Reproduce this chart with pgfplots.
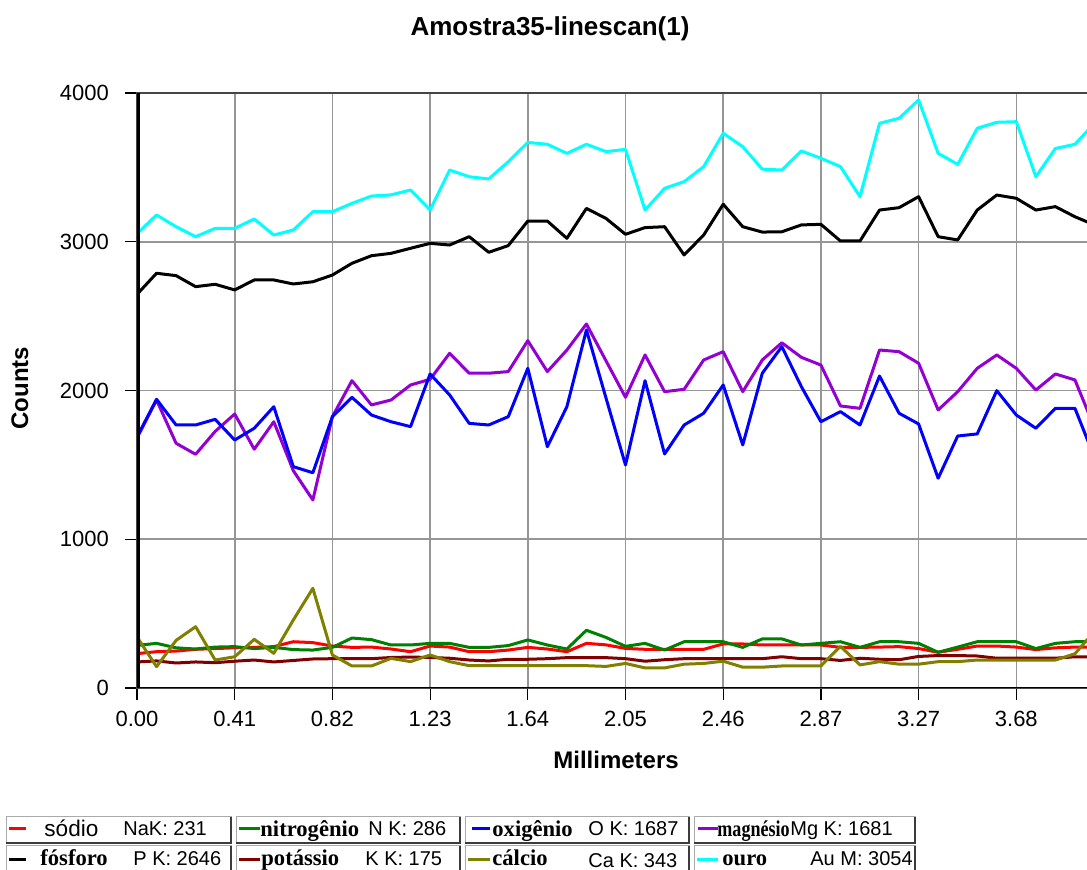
\documentclass[border=0pt]{standalone}
\usepackage{fontspec}
\setmainfont{Liberation Sans}
\newfontfamily\namefont{Liberation Serif}
\usepackage{pgfplots}
\usepackage{pgfplotstable}
\pgfplotsset{compat=1.18}

\definecolor{cNa}{RGB}{255,0,0}
\definecolor{cN}{RGB}{0,128,0}
\definecolor{cO}{RGB}{0,0,255}
\definecolor{cMg}{RGB}{148,0,211}
\definecolor{cP}{RGB}{0,0,0}
\definecolor{cK}{RGB}{128,0,0}
\definecolor{cCa}{RGB}{128,128,0}
\definecolor{cAu}{RGB}{0,255,255}
\definecolor{gridgray}{RGB}{150,150,150}
\definecolor{framegray}{RGB}{70,70,70}
\definecolor{boxlight}{RGB}{170,170,170}
\definecolor{boxdark}{RGB}{60,60,60}

% line scan: point index (step 0.082 mm) and counts per element
\pgfplotstableread{
i  Na  N   O    Mg   P    K   Ca  Au
0  231 286 1687 1681 2646 175 343 3054
1  244 300 1941 1936 2788 182 143 3180
2  248 270 1768 1645 2772 168 320 3101
3  260 262 1768 1571 2698 175 412 3034
4  265 275 1806 1725 2714 170 188 3090
5  270 278 1667 1842 2676 180 210 3090
6  273 265 1746 1605 2743 188 327 3153
7  278 273 1891 1790 2743 175 233 3045
8  311 258 1488 1461 2716 185 457 3079
9  305 255 1447 1264 2731 195 670 3202
10 282 273 1824 1824 2776 197 222 3202
11 273 336 1954 2066 2855 197 148 3258
12 275 325 1835 1903 2906 197 148 3307
13 262 289 1790 1936 2922 205 199 3315
14 244 289 1757 2037 2956 208 177 3348
15 282 300 2111 2075 2989 205 222 3213
16 275 300 1970 2250 2978 200 177 3482
17 244 273 1779 2116 3034 188 150 3437
18 244 273 1768 2116 2929 182 150 3422
19 255 285 1824 2127 2974 193 150 3538
20 273 323 2149 2335 3139 193 150 3668
21 262 289 1622 2127 3139 197 150 3655
22 244 262 1891 2272 3023 204 150 3594
23 300 388 2407 2447 3224 204 150 3655
24 290 340 1950 2200 3157 204 145 3606
25 266 280 1499 1954 3050 197 165 3621
26 260 300 2066 2239 3095 180 135 3213
27 260 255 1573 1992 3101 190 135 3359
28 260 311 1768 2008 2911 197 160 3404
29 260 311 1847 2205 3045 197 165 3505
30 296 311 2037 2261 3252 197 180 3729
31 296 273 1634 1992 3101 197 140 3639
32 289 330 2116 2205 3065 197 140 3488
33 289 330 2295 2321 3067 210 148 3482
34 289 289 2026 2223 3113 197 148 3610
35 289 300 1790 2171 3117 197 148 3561
36 273 311 1858 1896 3005 185 280 3505
37 273 273 1768 1880 3005 200 155 3303
38 275 311 2097 2272 3213 193 177 3796
39 278 311 1847 2261 3229 190 160 3830
40 265 300 1775 2183 3303 212 160 3953
41 240 240 1410 1869 3034 218 177 3594
42 260 275 1694 1992 3012 218 177 3520
43 282 311 1708 2149 3213 215 188 3763
44 282 311 1999 2239 3314 200 188 3803
45 275 311 1835 2149 3292 200 188 3807
46 258 265 1746 2003 3213 200 188 3437
47 270 300 1880 2111 3236 200 188 3627
48 275 311 1880 2071 3168 210 230 3655
49 275 311 1550 1750 3113 210 380 3796
}\linescan

\begin{document}
\begin{tikzpicture}
\useasboundingbox (0,0) rectangle (543.5pt,435pt);
\begin{axis}[
  at={(68.5pt,91pt)}, anchor=south west,
  scale only axis, width=480pt, height=297.5pt,
  xmin=0, xmax=49.13, ymin=0, ymax=4000,
  xtick={0,5,...,45},
  xticklabels={0.00,0.41,0.82,1.23,1.64,2.05,2.46,2.87,3.27,3.68},
  ytick={0,1000,2000,3000,4000},
  scaled y ticks=false,
  /pgf/number format/1000 sep={},
  /pgf/number format/assume math mode=true,
  xtick pos=left, ytick pos=left,
  tick align=outside, major tick length=6pt,
  tick style={black, line width=0.6pt},
  tick label style={font=\fontsize{11}{13}\selectfont},
  xticklabel style={yshift=-2pt},
  yticklabel style={xshift=-4.5pt},
  grid=major, major grid style={gridgray, line width=0.8pt},
  axis line style={framegray, line width=0.8pt},
  title={Amostra35-linescan(1)},
  title style={at={(0.4302,1.087)}, anchor=center, yshift=0pt,
    font=\bfseries\fontsize{13}{15}\selectfont},
  xlabel={Millimeters},
  xlabel style={at={(0.499,-0.121)}, anchor=center,
    font=\bfseries\fontsize{12}{14}\selectfont},
  ylabel={Counts},
  ylabel style={at={(-0.1219,0.504)}, anchor=center,
    font=\bfseries\fontsize{12}{14}\selectfont},
  every axis plot/.append style={line width=1.5pt, line join=round},
  clip=true,
]
\addplot[cNa] table[x=i, y=Na] {\linescan};
\addplot[cN]  table[x=i, y=N]  {\linescan};
\addplot[cMg] table[x=i, y=Mg] {\linescan};
\addplot[cO]  table[x=i, y=O]  {\linescan};
\addplot[cP]  table[x=i, y=P]  {\linescan};
\addplot[cK]  table[x=i, y=K]  {\linescan};
\addplot[cCa] table[x=i, y=Ca] {\linescan};
\addplot[cAu] table[x=i, y=Au] {\linescan};
% axis lines over the frame
\draw[black, line width=1pt] (rel axis cs:0,0) -- (rel axis cs:1,0);
\draw[black, line width=2.5pt] (rel axis cs:0,0) -- (rel axis cs:0,1);
\end{axis}

% legend cells
\tikzset{
  cellframe/.style={draw=boxlight, line width=0.5pt},
  cellshade/.style={draw=boxdark, line width=0.8pt},
  sample/.style={line width=1.5pt},
  elname/.style={anchor=base west, inner sep=0pt, font=\namefont\bfseries\fontsize{11.3}{13}\selectfont},
  elval/.style={anchor=base west, inner sep=0pt, font=\fontsize{10}{12}\selectfont},
}
\foreach \xa/\xb in {3/115.5, 118/230, 232.5/344.5, 347/457.5}{
  \draw[cellframe] (\xa pt,13.5pt) rectangle (\xb pt,26.5pt);
  \draw[cellshade] (\xa pt,13.5pt) -- (\xb pt,13.5pt) -- (\xb pt,26.5pt);
  \draw[cellframe] (\xa pt,-2pt) rectangle (\xb pt,12pt);
  \draw[cellshade] (\xb pt,-2pt) -- (\xb pt,12pt);
}
% row 1
\draw[sample, cNa] (4.5pt,20.5pt) -- (13pt,20.5pt);
\node[anchor=base west, inner sep=0pt, font=\fontsize{11.3}{13}\selectfont] at (22pt,16.7pt) {sódio};
\node[elval] at (61.5pt,17pt) {NaK: 231};
\draw[sample, cN] (119.5pt,20.5pt) -- (130pt,20.5pt);
\node[elname] at (130pt,16.7pt) {nitrogênio};
\node[elval] at (184pt,17pt) {N K: 286};
\draw[sample, cO] (236pt,20.5pt) -- (245pt,20.5pt);
\node[elname] at (246pt,16.7pt) {oxigênio};
\node[elval] at (294pt,17pt) {O K: 1687};
\draw[sample, cMg] (349pt,20.5pt) -- (359pt,20.5pt);
\node[elname] at (358.5pt,16.7pt) {\scalebox{0.8}[1]{magnésio}};
\node[elval] at (395pt,17pt) {Mg K: 1681};
% row 2
\draw[sample, cP] (4.5pt,5pt) -- (13pt,5pt);
\node[elname] at (20pt,2pt) {fósforo};
\node[elval] at (66.5pt,2pt) {P K: 2646};
\draw[sample, cK] (119.5pt,5pt) -- (130pt,5pt);
\node[elname] at (130.5pt,2pt) {potássio};
\node[elval] at (182.5pt,2pt) {K K: 175};
\draw[sample, cCa] (234pt,5pt) -- (245pt,5pt);
\node[elname] at (246pt,2pt) {cálcio};
\node[elval] at (294pt,1.3pt) {Ca K: 343};
\draw[sample, cAu] (348.5pt,5pt) -- (359pt,5pt);
\node[elname] at (361pt,2pt) {ouro};
\node[elval] at (405pt,2pt) {Au M: 3054};
\end{tikzpicture}
\end{document}
